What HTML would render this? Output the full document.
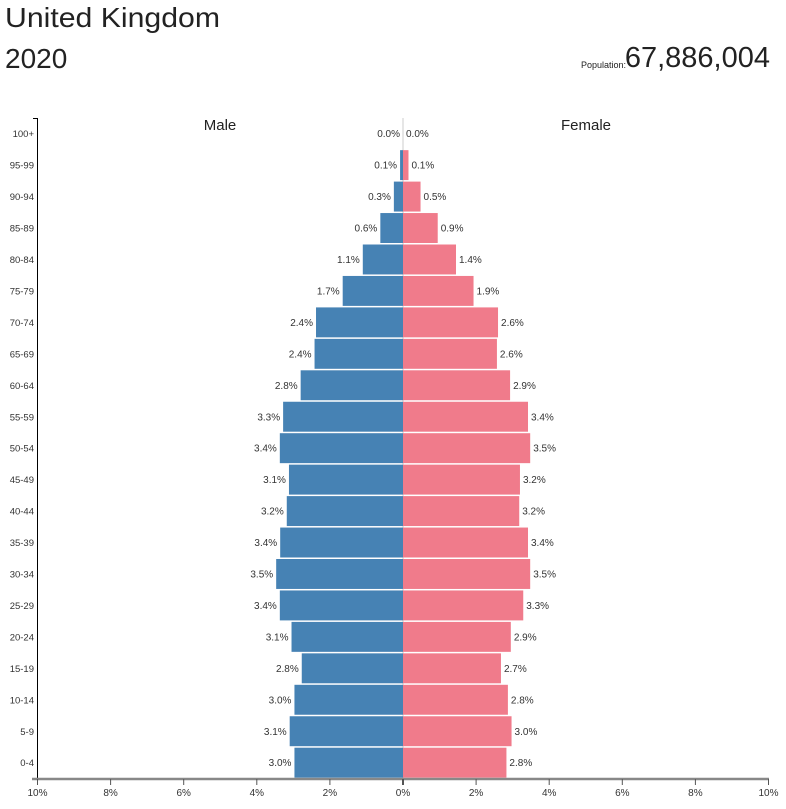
<!DOCTYPE html>
<html><head><meta charset="utf-8"><style>
body{margin:0;background:#fff;font-family:"Liberation Sans",sans-serif;}
svg text{font-family:"Liberation Sans",sans-serif;}
</style></head><body>
<svg id="chart" width="786" height="804" xmlns="http://www.w3.org/2000/svg">
<text x="5" y="27" font-size="28" fill="#222" textLength="215" lengthAdjust="spacingAndGlyphs">United Kingdom</text>
<text x="5" y="68" font-size="28" fill="#222">2020</text>
<text x="626" y="68" font-size="9" fill="#222" text-anchor="end">Population:</text>
<text x="770" y="67" font-size="29" fill="#222" text-anchor="end">67,886,004</text>
<text x="220" y="130" font-size="15" fill="#222" text-anchor="middle">Male</text>
<text x="586" y="130" font-size="15" fill="#222" text-anchor="middle">Female</text>
<g id="bars"></g>
</svg>
<script>
const ageGroups=["100+","95-99","90-94","85-89","80-84","75-79","70-74","65-69","60-64","55-59","50-54","45-49","40-44","35-39","30-34","25-29","20-24","15-19","10-14","5-9","0-4"];
const maleValues=[0.0,0.08,0.25,0.62,1.1,1.65,2.38,2.42,2.8,3.28,3.37,3.12,3.18,3.36,3.47,3.37,3.05,2.77,2.97,3.1,2.97];
const femaleValues=[0.0,0.15,0.48,0.95,1.45,1.93,2.6,2.57,2.93,3.42,3.48,3.2,3.18,3.42,3.48,3.29,2.95,2.68,2.87,2.97,2.83];
const maleLabels=["0.0%","0.1%","0.3%","0.6%","1.1%","1.7%","2.4%","2.4%","2.8%","3.3%","3.4%","3.1%","3.2%","3.4%","3.5%","3.4%","3.1%","2.8%","3.0%","3.1%","3.0%"];
const femaleLabels=["0.0%","0.1%","0.5%","0.9%","1.4%","1.9%","2.6%","2.6%","2.9%","3.4%","3.5%","3.2%","3.2%","3.4%","3.5%","3.3%","2.9%","2.7%","2.8%","3.0%","2.8%"];
const tickValues=[-10,-8,-6,-4,-2,0,2,4,6,8,10];
const tickLabels=["10%","8%","6%","4%","2%","0%","2%","4%","6%","8%","10%"];
const NS="http://www.w3.org/2000/svg";
const svg=document.getElementById('bars');
const cx=403, pxPer=36.55, top0=118, pitch=31.45;
const xs=v=>cx+v*pxPer;
const yTop=i=>top0+i*pitch;
function mk(t,a){const e=document.createElementNS(NS,t);for(const k in a)e.setAttribute(k,a[k]);svg.appendChild(e);return e;}
const mid=mk('line',{x1:cx,y1:top0,x2:cx,y2:779,stroke:'#ccc','stroke-width':1});


ageGroups.forEach((g,i)=>{
  const y=yTop(i);
  const mw=maleValues[i]*pxPer, fw=femaleValues[i]*pxPer;
  const mb=mk('rect',{x:xs(-maleValues[i]),y:y+0.7,width:mw,height:pitch-1.5,fill:'#4682b4'});
  
  
  const fb=mk('rect',{x:cx,y:y+0.7,width:fw,height:pitch-1.5,fill:'#f07b8b'});
  
  
  const ml=mk('text',{x:xs(-maleValues[i])-3,y:y+pitch/2+3.5,'font-size':10,fill:'#333','text-anchor':'end'});
  ml.textContent=maleLabels[i];
  
  
  const fl=mk('text',{x:xs(femaleValues[i])+3,y:y+pitch/2+3.5,'font-size':10,fill:'#333'});
  fl.textContent=femaleLabels[i];
  
  
  const al=mk('text',{x:34,y:y+pitch/2+3.5,'font-size':9.5,fill:'#333','text-anchor':'end'});
  al.textContent=g;
  
  
});
const ya=mk('path',{d:'M33,118.5H37.5V779',stroke:'#000',fill:'none','stroke-width':1});


const xa=mk('line',{x1:32,y1:779,x2:769,y2:779,stroke:'#888','stroke-width':2.5});


tickValues.forEach((v,i)=>{
  const x=xs(v);
  const t=mk('line',{x1:x,y1:779,x2:x,y2:785,stroke:'#555','stroke-width':v===0?2:1});
  
  
  const l=mk('text',{x:x,y:796,'font-size':10,fill:'#333','text-anchor':'middle'});
  l.textContent=tickLabels[i];
  
  
});
</script>
</body></html>
